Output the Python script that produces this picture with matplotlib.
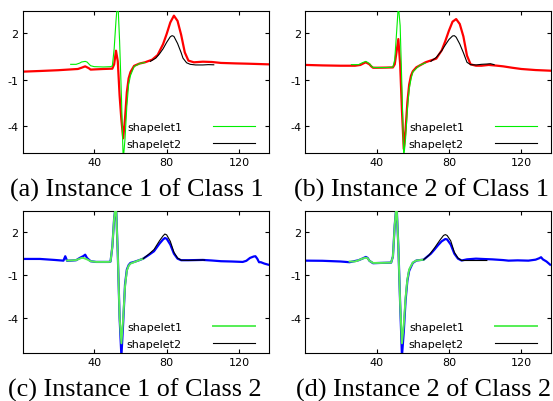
import matplotlib.pyplot as plt

# panel (a): instance 1 of class 1
a_x = [1, 10, 20, 31, 33, 35, 37, 38, 45, 50, 51, 52, 53, 54, 55, 56, 57, 58, 59, 60, 62, 65, 68,
       72, 75, 78, 80, 82, 84, 86, 88, 90, 92, 95, 100, 105, 110, 118, 125, 136]
a_y = [-0.47, -0.43, -0.38, -0.30, -0.22, -0.13, -0.25, -0.34, -0.30, -0.28, 0.0, 0.88, 0.2, -2.0, -3.6, -4.77, -3.5, -1.8, -0.9, -0.5, -0.1, 0.05, 0.13,
       0.30, 0.6, 1.3, 1.96, 2.7, 3.14, 2.8, 1.9, 0.77, 0.24, 0.13, 0.17, 0.15, 0.09, 0.06, 0.04, 0.0]
a_s1x = [27, 30, 32, 33, 35, 36, 38, 40, 45, 49, 50, 51, 52, 53, 54, 55, 56, 57, 58, 59, 60, 62, 65, 68]
a_s1y = [0.0, 0.0, 0.08, 0.15, 0.19, 0.15, -0.09, -0.15, -0.17, -0.15, -0.1, 1.0, 2.8, 4.2, 1.5, -2.0, -6.2, -4.8, -2.7, -1.3, -0.73, -0.15, 0.05, 0.12]
a_s2x = [71, 74, 76, 78, 80, 82, 83, 84, 86, 88, 89, 91, 93, 96, 100, 103, 106]
a_s2y = [0.19, 0.4, 0.67, 1.0, 1.42, 1.78, 1.85, 1.8, 1.35, 0.75, 0.4, 0.1, 0.0, -0.04, -0.04, -0.02, -0.03]

# panel (b): instance 2 of class 1
b_x = [1, 10, 20, 28, 31, 33, 34, 36, 37, 38, 40, 45, 49, 50, 51, 52, 53, 54, 55, 56, 57, 58, 59, 60, 62, 65, 67,
       70, 73, 76, 78, 80, 82, 84, 86, 88, 90, 92, 95, 98, 102, 106, 110, 115, 120, 128, 136]
b_y = [-0.04, -0.07, -0.09, -0.09, -0.04, 0.08, 0.13, 0.0, -0.13, -0.22, -0.22, -0.21, -0.2, 0.0, 0.8, 1.63, 0.0, -3.0, -5.46, -4.2, -2.45, -1.3, -0.73, -0.45, -0.19, 0.0, 0.13,
       0.25, 0.37, 0.9, 1.5, 2.17, 2.75, 2.92, 2.6, 1.8, 0.56, 0.0, -0.09, -0.09, -0.04, -0.08, -0.13, -0.22, -0.3, -0.37, -0.41]
b_s1x = [26, 30, 32, 34, 36, 37, 38, 40, 45, 49, 50, 51, 52, 53, 54, 55, 56, 57, 58, 59, 60, 62, 64, 67]
b_s1y = [-0.02, -0.02, 0.1, 0.19, 0.05, -0.1, -0.2, -0.21, -0.21, -0.18, 0.3, 2.0, 3.8, 2.5, -1.5, -6.0, -4.8, -2.9, -1.6, -0.95, -0.5, -0.26, -0.05, 0.09]
b_s2x = [70, 73, 76, 78, 80, 82, 83, 84, 86, 88, 90, 92, 95, 98, 101, 103, 105]
b_s2y = [0.19, 0.45, 0.88, 1.25, 1.6, 1.83, 1.85, 1.75, 1.31, 0.75, 0.13, -0.02, -0.04, 0.0, 0.02, 0.04, -0.02]

# panel (c): instance 1 of class 2
c_x = [1, 10, 18, 23, 24, 25, 28, 30, 32, 34, 35, 36, 38, 41, 45, 48, 49, 50, 51, 52, 53, 54, 55, 56, 57, 58, 59, 60, 62, 65, 67,
       70, 73, 76, 78, 79, 80, 82, 84, 86, 88, 92, 100, 105, 110, 116, 122, 124, 126, 128, 129, 130, 131, 132, 134, 136]
c_y = [0.13, 0.13, 0.06, 0.01, 0.32, 0.0, 0.02, 0.04, 0.2, 0.33, 0.43, 0.2, -0.03, -0.08, -0.08, -0.08, -0.05, 1.0, 3.0, 4.0, 0.5, -4.0, -6.7, -4.3, -1.67, -0.62, -0.3, -0.15, -0.08, 0.05, 0.15,
       0.4, 0.67, 1.2, 1.5, 1.6, 1.55, 1.14, 0.5, 0.15, 0.04, 0.04, 0.06, 0.02, -0.03, -0.05, -0.08, 0.0, 0.2, 0.3, 0.32, 0.15, -0.1, -0.1, -0.2, -0.27]
c_s1x = [25, 28, 30, 32, 33, 34, 36, 38, 41, 45, 48, 49, 50, 51, 52, 53, 54, 55, 56, 57, 58, 59, 60, 62, 65, 67]
c_s1y = [0.02, 0.03, 0.05, 0.15, 0.2, 0.2, 0.1, -0.03, -0.08, -0.08, -0.08, -0.05, 1.0, 3.0, 4.0, 0.5, -4.0, -5.8, -4.0, -1.8, -0.7, -0.35, -0.2, -0.1, 0.05, 0.15]
c_s2x = [67, 70, 73, 76, 78, 79, 80, 82, 84, 86, 88, 92, 96, 100, 101]
c_s2y = [0.15, 0.45, 0.79, 1.4, 1.75, 1.88, 1.82, 1.37, 0.6, 0.2, 0.04, 0.03, 0.04, 0.06, 0.05]

# panel (d): instance 2 of class 2
d_x = [1, 10, 20, 25, 30, 32, 34, 35, 36, 38, 42, 48, 49, 50, 51, 52, 53, 54, 55, 56, 57, 58, 60, 62, 66,
       70, 72, 74, 76, 78, 79, 81, 83, 85, 87, 90, 95, 100, 104, 110, 113, 118, 124, 128, 130, 131, 132, 134, 136]
d_y = [0.01, 0.0, -0.05, -0.1, 0.04, 0.15, 0.27, 0.2, 0.0, -0.17, -0.15, -0.13, 0.3, 2.5, 4.0, 1.0, -3.0, -6.7, -5.0, -2.8, -1.4, -0.7, -0.15, 0.02, 0.08,
       0.5, 0.79, 1.1, 1.37, 1.53, 1.5, 1.14, 0.5, 0.15, 0.02, 0.1, 0.15, 0.12, 0.1, 0.05, 0.01, 0.03, 0.01, 0.08, 0.18, 0.25, 0.1, -0.05, -0.27]
d_s1x = [25, 28, 30, 32, 34, 35, 36, 38, 42, 48, 49, 50, 51, 52, 53, 54, 55, 56, 57, 58, 60, 62, 66]
d_s1y = [-0.05, -0.05, 0.04, 0.15, 0.22, 0.18, 0.0, -0.15, -0.15, -0.13, 0.3, 2.5, 4.0, 1.0, -3.0, -5.8, -4.5, -2.6, -1.3, -0.6, -0.12, 0.02, 0.08]
d_s2x = [66, 69, 72, 75, 77, 78, 79, 81, 83, 85, 87, 90, 95, 100, 101]
d_s2y = [0.08, 0.4, 0.9, 1.45, 1.78, 1.84, 1.78, 1.4, 0.6, 0.2, 0.02, 0.02, 0.02, 0.02, 0.02]

captions = ['(a) Instance 1 of Class 1', '(b) Instance 2 of Class 1',
            '(c) Instance 1 of Class 2', '(d) Instance 2 of Class 2']
xticks = [40, 80, 120]
yticks = [2, -1, -4]

W, H = 553, 402
fig = plt.figure(figsize=(W / 100, H / 100), dpi=100)


def panel(box, x, y, s1x, s1y, s2x, s2y, col, green, glw, ylim):
    left, top, right, bottom = box
    ax = fig.add_axes([left / W, 1 - bottom / H, (right - left) / W, (bottom - top) / H])
    ax.plot(x, y, color=col, lw=1.6, zorder=2)
    ax.plot(s1x, s1y, color=green, lw=glw, label='shapelet1', zorder=3)
    ax.plot(s2x, s2y, color='black', lw=0.8, label='shapelet2', zorder=3)
    ax.set_xlim(0.5, 136.5)
    ax.set_ylim(*ylim)
    ax.set_xticks(xticks)
    ax.set_yticks(yticks)
    ax.set_yticklabels([str(v) for v in yticks])
    ax.tick_params(direction='in', top=True, right=True, length=3, width=0.8,
                   labelsize=8, pad=3)
    for sp in ax.spines.values():
        sp.set_linewidth(0.8)
    ax.legend(loc='lower right', bbox_to_anchor=(0.96, 0.0), markerfirst=False, frameon=False,
              fontsize=8, handlelength=3.8, handletextpad=2.8, labelspacing=0.62,
              borderaxespad=0.35, borderpad=0.0)
    return ax


panel((22.7, 12, 269, 154), a_x, a_y, a_s1x, a_s1y, a_s2x, a_s2y, 'red', '#00ee00', 0.8, (-5.72, 3.44))
panel((305.3, 12, 551, 154), b_x, b_y, b_s1x, b_s1y, b_s2x, b_s2y, 'red', '#00ee00', 0.8, (-5.72, 3.44))
panel((22.7, 211.7, 269, 354), c_x, c_y, c_s1x, c_s1y, c_s2x, c_s2y, 'blue', '#55ee55', 1.4, (-6.48, 3.52))
panel((305.3, 211.7, 551, 354), d_x, d_y, d_s1x, d_s1y, d_s2x, d_s2y, 'blue', '#55ee55', 1.4, (-6.48, 3.52))

cap_pos = [(137, 197), (421, 197), (135, 397), (424, 397)]
for (cx, cy), txt in zip(cap_pos, captions):
    fig.text(cx / W, 1 - cy / H, txt, ha='center', va='baseline',
             family='Liberation Serif', fontsize=18.8)

fig.savefig('out.png', dpi=100)
